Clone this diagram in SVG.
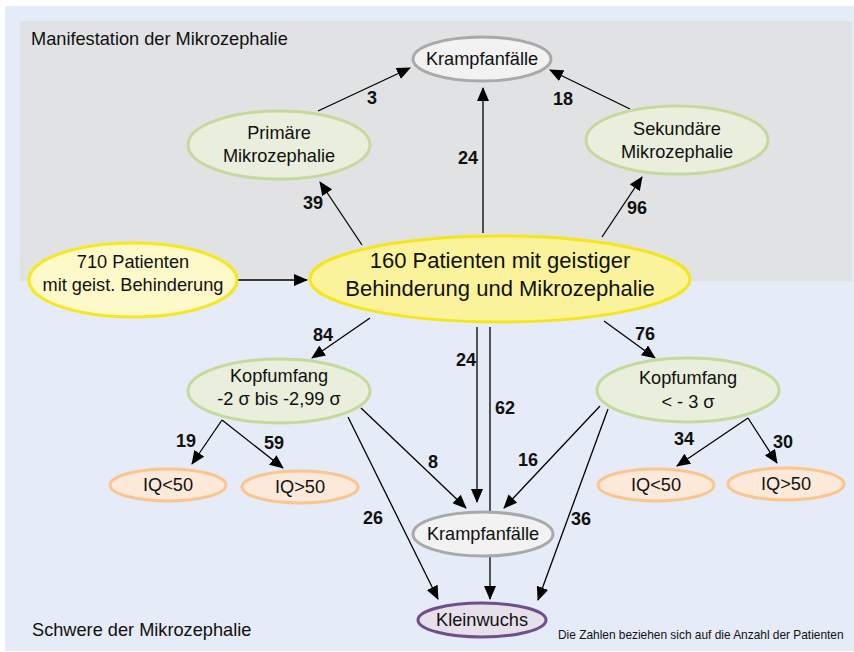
<svg xmlns="http://www.w3.org/2000/svg" width="854" height="652" viewBox="0 0 854 652">
<defs>
<style>
text{font-family:"Liberation Sans",Arial,sans-serif;fill:#111}
.lbl{font-size:18.2px;text-anchor:middle}
.big{font-size:22px;text-anchor:middle}
.num{font-size:18px;font-weight:bold;text-anchor:middle}
.cap{font-size:18.2px}
.green{fill:#e9efdc;stroke:#c5d99c;stroke-width:3}
.yel1{fill:#fdf9c9;stroke:#f7e81e;stroke-width:3}
.yel2{fill:#fbf39b;stroke:#f5e61a;stroke-width:3}
.iq{fill:#fde9da;stroke:#fbc58f;stroke-width:3}
.kr{fill:#f2f2f2;stroke:#a9a9a9;stroke-width:3}
.kw{fill:#e6e0eb;stroke:#6e4f8c;stroke-width:3}
.c line{stroke:#000;stroke-width:1.3}
.c line.a{marker-end:url(#ah)}
</style>
<marker id="ah" markerUnits="userSpaceOnUse" markerWidth="14" markerHeight="12" refX="13" refY="6" orient="auto" viewBox="0 0 14 12">
<path d="M0,0 L14,6 L0,12 z" fill="#000"/>
</marker>
</defs>
<rect x="0" y="0" width="854" height="652" fill="#fff"/>
<rect x="5" y="6" width="849" height="645" fill="#e5ebf7"/>
<rect x="20" y="21" width="832" height="260" fill="#e1e2e4"/>
<text class="cap" x="31" y="45">Manifestation der Mikrozephalie</text>
<text class="cap" x="32" y="636">Schwere der Mikrozephalie</text>
<text x="558" y="639" style="font-size:11.9px">Die Zahlen beziehen sich auf die Anzahl der Patienten</text>

<g class="c" id="connectors">
<line class="a" x1="318" y1="111" x2="410" y2="68"/>
<line class="a" x1="483" y1="233" x2="483" y2="88"/>
<line class="a" x1="630" y1="109" x2="550" y2="70"/>
<line class="a" x1="362" y1="245" x2="320" y2="182"/>
<line class="a" x1="602" y1="237" x2="642" y2="177"/>
<line class="a" x1="238" y1="280" x2="307" y2="280"/>
<line class="a" x1="370" y1="318" x2="312" y2="358"/>
<line class="a" x1="604" y1="321" x2="655" y2="358"/>
<line class="a" x1="477" y1="327" x2="477" y2="502"/>
<line x1="490" y1="327" x2="490" y2="512"/>
<line class="a" x1="490" y1="557" x2="490" y2="599"/>
<line class="a" x1="222" y1="420" x2="192" y2="464"/>
<line class="a" x1="222" y1="420" x2="283" y2="468"/>
<line class="a" x1="361" y1="408" x2="466" y2="508"/>
<line class="a" x1="348" y1="417" x2="438" y2="599"/>
<line class="a" x1="600" y1="406" x2="504" y2="508"/>
<line class="a" x1="608" y1="409" x2="538" y2="600"/>
<line class="a" x1="748" y1="418" x2="677" y2="466"/>
<line class="a" x1="748" y1="418" x2="777" y2="463"/>
</g>

<g id="labels">
<text class="num" x="372" y="104">3</text>
<text class="num" x="468" y="164">24</text>
<text class="num" x="563" y="105">18</text>
<text class="num" x="313" y="209">39</text>
<text class="num" x="637" y="214">96</text>
<text class="num" x="323" y="341">84</text>
<text class="num" x="645" y="340">76</text>
<text class="num" x="466" y="366">24</text>
<text class="num" x="505" y="414">62</text>
<text class="num" x="433" y="468">8</text>
<text class="num" x="528" y="466">16</text>
<text class="num" x="186" y="447">19</text>
<text class="num" x="274" y="449">59</text>
<text class="num" x="684" y="445">34</text>
<text class="num" x="783" y="448">30</text>
<text class="num" x="373" y="524">26</text>
<text class="num" x="581" y="525">36</text>
</g>

<g id="krampf-top"><ellipse class="kr" cx="482" cy="59" rx="69" ry="22"/><text class="lbl" x="482" y="65">Krampfanfälle</text></g>
<g id="primaer"><ellipse class="green" cx="279" cy="145" rx="91" ry="34"/><text class="lbl" x="279" y="139">Primäre</text><text class="lbl" x="279" y="162">Mikrozephalie</text></g>
<g id="sekundaer"><ellipse class="green" cx="677" cy="140" rx="91" ry="34"/><text class="lbl" x="677" y="135">Sekundäre</text><text class="lbl" x="677" y="158">Mikrozephalie</text></g>
<g id="p710"><ellipse class="yel1" cx="133" cy="280" rx="104" ry="37"/><text class="lbl" x="133" y="268">710 Patienten</text><text class="lbl" x="133" y="291">mit geist. Behinderung</text></g>
<g id="p160"><ellipse class="yel2" cx="500" cy="279" rx="190" ry="43"/><text class="big" x="500" y="268">160 Patienten mit geistiger</text><text class="big" x="500" y="296">Behinderung und Mikrozephalie</text></g>
<g id="kopf-left"><ellipse class="green" cx="279" cy="391" rx="91" ry="32"/><text class="lbl" x="279" y="382">Kopfumfang</text><text class="lbl" x="279" y="405">-2 σ bis -2,99 σ</text></g>
<g id="kopf-right"><ellipse class="green" cx="688" cy="390" rx="91" ry="32"/><text class="lbl" x="688" y="384">Kopfumfang</text><text class="lbl" x="688" y="408">&lt; - 3 σ</text></g>
<g id="iq1"><ellipse class="iq" cx="168" cy="485" rx="58" ry="16"/><text class="lbl" x="168" y="491">IQ&lt;50</text></g>
<g id="iq2"><ellipse class="iq" cx="300" cy="487" rx="58" ry="16"/><text class="lbl" x="300" y="493">IQ&gt;50</text></g>
<g id="iq3"><ellipse class="iq" cx="656" cy="485" rx="58" ry="16"/><text class="lbl" x="656" y="491">IQ&lt;50</text></g>
<g id="iq4"><ellipse class="iq" cx="786" cy="484" rx="58" ry="16"/><text class="lbl" x="786" y="490">IQ&gt;50</text></g>
<g id="krampf-bottom"><ellipse class="kr" cx="483" cy="534" rx="70" ry="22"/><text class="lbl" x="483" y="540">Krampfanfälle</text></g>
<g id="kleinwuchs"><ellipse class="kw" cx="482" cy="620" rx="64" ry="17"/><text class="lbl" x="482" y="626">Kleinwuchs</text></g>
</svg>
